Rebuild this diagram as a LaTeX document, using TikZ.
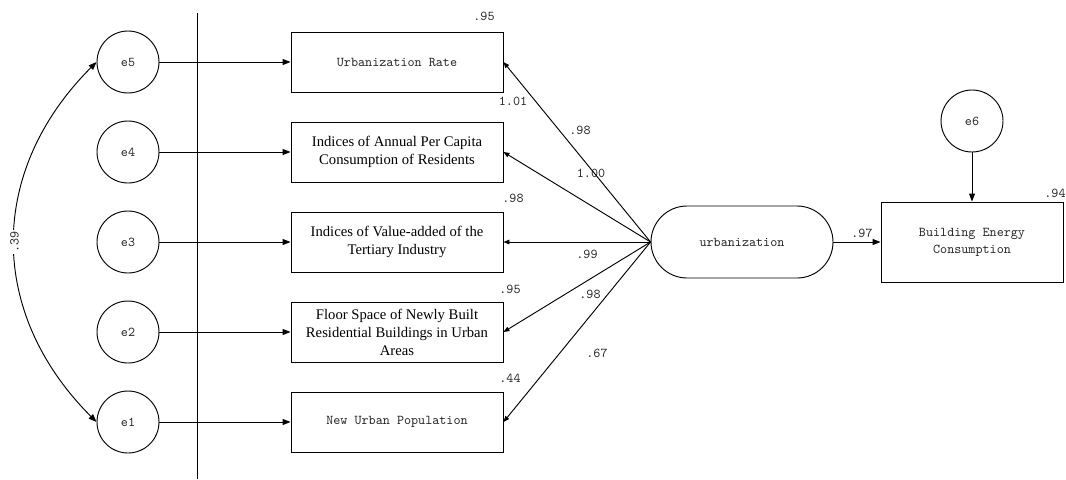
\documentclass[tikz,border=0pt]{standalone}
\usepackage{fontspec}
\setmainfont{Liberation Serif}
\usetikzlibrary{arrows.meta}

\begin{document}
\begin{tikzpicture}[x=0.75pt,y=-0.75pt,line width=0.7pt,>={Triangle[length=6pt,width=4.5pt]},
	mono/.style={font=\ttfamily\fontsize{10.1}{12.75}\selectfont,text=black!85},
	err node/.style={circle,draw,mono,minimum size=46.5pt,inner sep=0pt},
	obs node/.style={rectangle,draw,minimum width=159pt,minimum height=45pt,inner sep=1pt,align=center,font=\fontsize{11}{13.5}\selectfont},
	lat node/.style={rectangle,draw,mono,rounded corners=27pt,minimum width=136.5pt,minimum height=54pt},
	num/.style={mono,inner sep=1pt}]
	
	\useasboundingbox (0,0) rectangle (1066,479);
	
	\node[err node] at (128,62) (e5) {e5};
	\node[err node] at (128,152) (e4) {e4};
	\node[err node] at (128,242) (e3) {e3};
	\node[err node] at (128,332) (e2) {e2};
	\node[err node] at (128,422) (e1) {e1};
	\node[err node] at (972,121) (e6) {e6};
	
	\node[obs node,mono] at (397,62) (x5) {Urbanization Rate};
	\node[obs node] at (397,152) (x4) {Indices of Annual Per Capita\\Consumption of Residents};
	\node[obs node] at (397,242) (x3) {Indices of Value-added of the\\Tertiary Industry};
	\node[obs node] at (397,332) (x2) {Floor Space of Newly Built\\Residential Buildings in Urban\\Areas};
	\node[obs node,mono] at (397,422) (x1) {New Urban Population};
	
	\node[lat node] at (742,242) (urb) {urbanization};
	\node[obs node,mono,minimum width=136.5pt,minimum height=60pt] at (972,242) (bec) {Building Energy\\Consumption};
	
	\coordinate (top) at (197,13);
	\coordinate (bot) at (197,479);
	\draw (top) -- (bot);
	
	\node[num] at (484,16) (r5) {.95};
	\node[num] at (513,101) (w5) {1.01};
	\node[num] at (580,130) (l5) {.98};
	\node[num] at (591,173) (l4) {1.00};
	\node[num] at (513,198) (r3) {.98};
	\node[num] at (587,254) (l3) {.99};
	\node[num] at (510,289) (r2) {.95};
	\node[num] at (590,294) (l2) {.98};
	\node[num] at (510,378) (r1) {.44};
	\node[num] at (597,353) (l1) {.67};
	\node[num] at (862,233) (l6) {.97};
	\node[num] at (1055,193) (r6) {.94};
	
	\path[->]
	(e5) edge (x5)
	(e4) edge (x4)
	(e3) edge (x3)
	(e2) edge (x2)
	(e1) edge (x1)
	(urb) edge (bec)
	(e6) edge (bec);
	
	\path[->,>={Triangle[length=4.5pt,width=3.5pt]}]
	(urb.west) edge (x5.east)
	(urb.west) edge (x4.east)
	(urb.west) edge (x3.east)
	(urb.west) edge (x2.east)
	(urb.west) edge (x1.east);
	
	\path[<->]
	(e5.west) edge[bend right=45,looseness=1.1] node[num,fill=white,rotate=90] (c51) {.39} (e1.west);
\end{tikzpicture}
\end{document}
